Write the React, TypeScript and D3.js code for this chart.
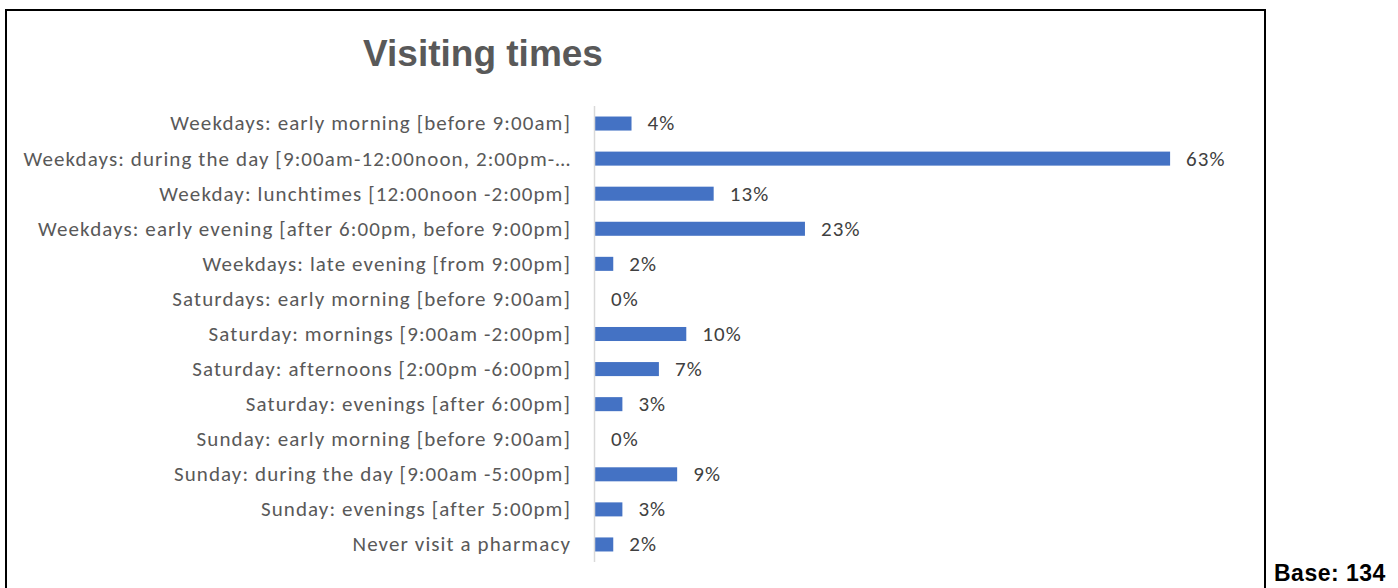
import React from "react";
import * as d3 from "d3";

const categories = [
  "Weekdays: early morning [before 9:00am]",
  "Weekdays: during the day [9:00am-12:00noon, 2:00pm-…",
  "Weekday: lunchtimes [12:00noon -2:00pm]",
  "Weekdays: early evening [after 6:00pm, before 9:00pm]",
  "Weekdays: late evening [from 9:00pm]",
  "Saturdays: early morning [before 9:00am]",
  "Saturday: mornings [9:00am -2:00pm]",
  "Saturday: afternoons [2:00pm -6:00pm]",
  "Saturday: evenings [after 6:00pm]",
  "Sunday: early morning [before 9:00am]",
  "Sunday: during the day [9:00am -5:00pm]",
  "Sunday: evenings [after 5:00pm]",
  "Never visit a pharmacy",
];
const values = [0.04, 0.63, 0.13, 0.23, 0.02, 0, 0.1, 0.07, 0.03, 0, 0.09, 0.03, 0.02];
const title = "Visiting times";
const baseLabel = "Base: 134";

const W = 1398;
const H = 588;

export default function App() {
  const x = d3.scaleLinear().domain([0, 0.7]).range([595, 1234]);
  const y = d3.scaleBand<string>().domain(categories).range([106, 562]).paddingInner(0.6).paddingOuter(0.3);
  const fmt = d3.format(".0%");
  const labelFont = "Carlito, Calibri, 'Liberation Sans', Arial, sans-serif";
  return (
    <svg width={W} height={H} style={{ position: "absolute", left: 0, top: 0 }}>
      <rect x={0} y={0} width={W} height={H} fill="#fff" />
      <rect x={6} y={10} width={1259} height={600} fill="#fff" stroke="#000" strokeWidth={2} />
      <text x={483} y={66} textAnchor="middle" fontFamily="'Liberation Sans', Arial, sans-serif" fontWeight="bold" fontSize={37} fill="#595959">
        {title}
      </text>
      {categories.map((c, i) => (
        <g key={c}>
          <text
            x={571}
            y={(y(c) as number) + y.bandwidth() / 2}
            dy="0.33em"
            textAnchor="end"
            fontFamily={labelFont}
            fontSize={21}
            letterSpacing={1.1}
            fill="#595959"
          >
            {c}
          </text>
          <rect x={x(0)} y={y(c)} width={x(values[i]) - x(0)} height={y.bandwidth()} fill="#4472c4" />
          <text
            x={x(values[i]) + 16}
            y={(y(c) as number) + y.bandwidth() / 2}
            dy="0.33em"
            fontFamily={labelFont}
            fontSize={21}
            letterSpacing={1.1}
            fill="#404040"
          >
            {fmt(values[i])}
          </text>
        </g>
      ))}
      <line x1={594.5} x2={594.5} y1={106} y2={562} stroke="#d9d9d9" strokeWidth={1.5} />
      <text x={1274} y={581} fontFamily="'Liberation Sans', Arial, sans-serif" fontWeight="bold" fontSize={23} letterSpacing={0.5} fill="#000">
        {baseLabel}
      </text>
    </svg>
  );
}
